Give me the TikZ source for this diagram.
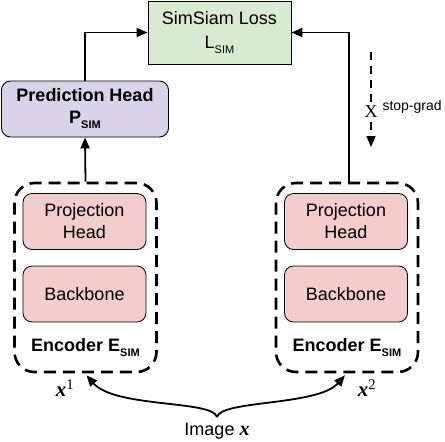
\documentclass[tikz,border=0pt]{standalone}
\usepackage{fontspec}
\setmainfont{Liberation Sans}
\newfontfamily\serifx{Liberation Serif}
\usetikzlibrary{arrows.meta}
\definecolor{lossgreen}{HTML}{D9EAD3}
\definecolor{predpurple}{HTML}{D9D2E9}
\definecolor{encpink}{HTML}{F4CCCC}
\newcommand{\simsub}{\raisebox{-5pt}{\fontsize{11}{11}\selectfont SIM}}
\newcommand{\imgx}{{\serifx\bfseries\itshape x}}

\begin{document}
\begin{tikzpicture}
  [x=1pt,y=-1pt,
   every node/.style={font=\fontsize{18}{22}\selectfont,align=center},
   arr/.style={line width=1.8pt,-{Triangle[length=11pt,width=9pt]}},
   inner/.style={draw,line width=0.8pt,fill=encpink,rounded corners=9pt,
     minimum width=123pt,minimum height=56pt,inner sep=0pt},
   enc/.style={draw,line width=2.6pt,dash pattern=on 12pt off 7pt,
     rounded corners=20pt,minimum width=142pt,minimum height=189pt}]
  \useasboundingbox (0,0) rectangle (445,442);

  \node[draw,line width=0.9pt,fill=lossgreen,minimum width=143pt,minimum height=63pt,inner sep=0pt]
    (loss) at (219.5,32.5) {SimSiam Loss\\[2pt]L\simsub};
  \node[draw,line width=0.9pt,fill=predpurple,rounded corners=9pt,minimum width=167pt,
    minimum height=56pt,inner sep=0pt,font=\fontsize{18}{22}\selectfont\bfseries]
    (pred) at (85,109) {Prediction Head\\P\simsub};

  \foreach \i/\x in {1/85.5,2/347}{
    \node[enc] (enc\i) at (\x,277.5) {};
    \node[inner] (proj\i) at (\x-1,221.5) {Projection\\Head};
    \node[inner] (back\i) at (\x-1,294) {Backbone};
    \node[font=\fontsize{18}{22}\selectfont\bfseries] (lab\i) at (\x,348) {Encoder E\simsub};
  }

  \node[font=\fontsize{21}{22}\selectfont] (x1) at (65,388) {\imgx\textsuperscript{\serifx 1}};
  \node[font=\fontsize{21}{22}\selectfont] (x2) at (367,388) {\imgx\textsuperscript{\serifx 2}};
  \node (img) at (217,431) {Image {\fontsize{20}{22}\selectfont\imgx}};
  \coordinate (fork) at (217,417);

  \draw[arr] (pred.north) |- (loss.west);
  \draw[arr] ([xshift=2pt]enc2.north) |- (loss.east);
  \draw[arr] (enc1.north) -- (pred.south);
  \draw[arr] (fork) .. controls (213,400) and (115,408) .. ([xshift=1pt,yshift=-2pt]enc1.south);
  \draw[arr] (fork) .. controls (221,400) and (318,406) .. ([xshift=-2pt,yshift=-2pt]enc2.south);

  % stop-grad
  \coordinate (sgtop) at (371,52);
  \coordinate (sgbot) at (371,147);
  \draw[arr,line width=1.4pt,dash pattern=on 8pt off 6pt] (sgtop) -- (sgbot);
  \node[fill=white,inner sep=0.3pt,font=\fontsize{18}{18}\selectfont\serifx] (cut) at (371,112) {X};
  \node[anchor=west,font=\fontsize{14}{14}\selectfont] (sglab) at (379,107) {stop-grad};
\end{tikzpicture}
\end{document}
